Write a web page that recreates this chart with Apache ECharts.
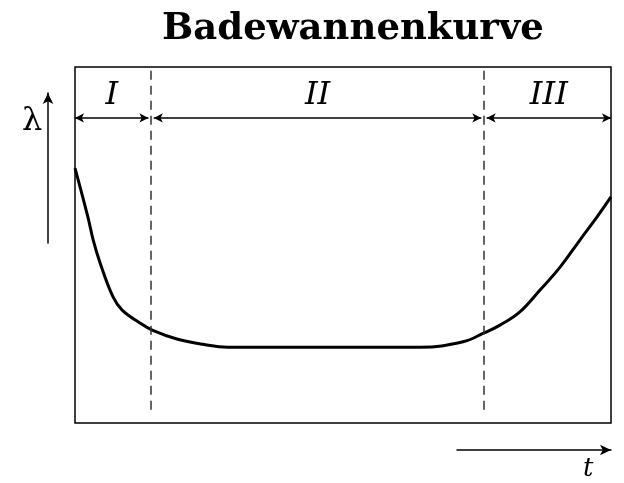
<!DOCTYPE html>
<html>
<head>
<meta charset="utf-8">
<script src="https://cdn.jsdelivr.net/npm/echarts@6/dist/echarts.min.js"></script>
<style>
  html, body { margin: 0; padding: 0; background: #fff; }
  #myChart { width: 624px; height: 483px; }
</style>
</head>
<body>
<div id="myChart"></div>
<script>
// bathtub curve, x = time (0..100 of plot width), y = failure rate (0..100)
const curveX = [0, 2.4, 3.4, 4.7, 7.1, 8.8, 12.1, 14.4, 19.0, 23.9, 28.5, 64.4, 72.4, 76.3, 79.3, 83.0, 86.8, 90.5, 94.2, 97.4, 100];
const curveY = [71.6, 57.9, 51.4, 44.9, 35.4, 31.7, 28.1, 26.1, 23.6, 22.1, 21.3, 21.3, 22.8, 25.3, 27.5, 31.2, 37.4, 43.8, 51.4, 57.9, 63.5];
// phase boundaries and names
const phaseBounds = [0, 14.2, 76.3, 100];
const phaseLabels = ['I', 'II', 'III'];
const arrowLevel = 85.7;
const dashBottom = 3.7;

const curveData = curveX.map((x, i) => [x, curveY[i]]);
const gap = 0.5 // small space between arrow tips and the dashed lines

let dashLines = []
phaseBounds.slice(1, -1).forEach(x => {
    dashLines.push([{ coord: [x, dashBottom] }, { coord: [x, 100] }])
});

let phaseArrows = []
phaseLabels.forEach((name, i) => {
    let a = i === 0 ? phaseBounds[i] : phaseBounds[i] + gap
    let b = i === phaseLabels.length - 1 ? phaseBounds[i + 1] : phaseBounds[i + 1] - gap
    phaseArrows.push([
        { coord: [a, arrowLevel], label: { formatter: name } },
        { coord: [b, arrowLevel] }
    ])
});

const hiddenAxis = (idx) => ({
    type: 'value', gridIndex: idx, min: 0, max: 100, show: false
});

let myChart = echarts.init(document.getElementById('myChart'))
let option = {
    animation: false,
    title: {
        text: 'Badewannenkurve',
        left: 348,
        top: 6,
        textAlign: 'center',
        textStyle: {
            fontFamily: 'DejaVu Serif',
            fontWeight: 'bold',
            fontSize: 37,
            color: '#000'
        }
    },
    grid: [
        { left: 75, right: 13, top: 67, bottom: 60, show: true, borderColor: '#000', borderWidth: 1.5, backgroundColor: '#fff' },
        { left: 48, top: 93, width: 10, height: 150 },
        { left: 457, top: 440, width: 154, height: 10 }
    ],
    xAxis: [
        hiddenAxis(0),
        hiddenAxis(1),
        {
            type: 'value', gridIndex: 2, min: 0, max: 1, position: 'bottom',
            axisLine: { show: true, symbol: ['none', 'arrow'], symbolSize: [8, 11], lineStyle: { color: '#000', width: 1.5 } },
            axisTick: { show: false }, axisLabel: { show: false }, splitLine: { show: false }
        }
    ],
    yAxis: [
        hiddenAxis(0),
        {
            type: 'value', gridIndex: 1, min: 0, max: 1, position: 'left',
            axisLine: { show: true, symbol: ['none', 'arrow'], symbolSize: [8, 11], lineStyle: { color: '#000', width: 1.5 } },
            axisTick: { show: false }, axisLabel: { show: false }, splitLine: { show: false }
        },
        hiddenAxis(2)
    ],
    graphic: [
        { type: 'text', left: 22, top: 106, style: { text: 'λ', font: '32px "DejaVu Serif"', fill: '#000' } },
        { type: 'text', left: 583, top: 456, style: { text: 't', font: 'italic 26px "DejaVu Serif"', fill: '#000' } }
    ],
    series: [
        {
            type: 'line',
            data: curveData,
            smooth: 0.4,
            showSymbol: false,
            lineStyle: { color: '#000', width: 3 }
        },
        {
            type: 'line',
            data: [],
            markLine: {
                silent: true,
                symbol: ['none', 'none'],
                label: { show: false },
                lineStyle: { color: '#333', width: 1.5, type: [9, 6] },
                data: dashLines
            }
        },
        {
            type: 'line',
            data: [],
            markLine: {
                silent: true,
                symbol: ['arrow', 'arrow'],
                symbolSize: [7, 9],
                lineStyle: { color: '#000', width: 1.5, type: 'solid' },
                label: {
                    show: true,
                    position: 'middle',
                    distance: 6,
                    fontFamily: 'DejaVu Serif',
                    fontStyle: 'italic',
                    fontSize: 32,
                    color: '#000'
                },
                data: phaseArrows
            }
        }
    ]
};
myChart.setOption(option)
</script>
</body>
</html>
